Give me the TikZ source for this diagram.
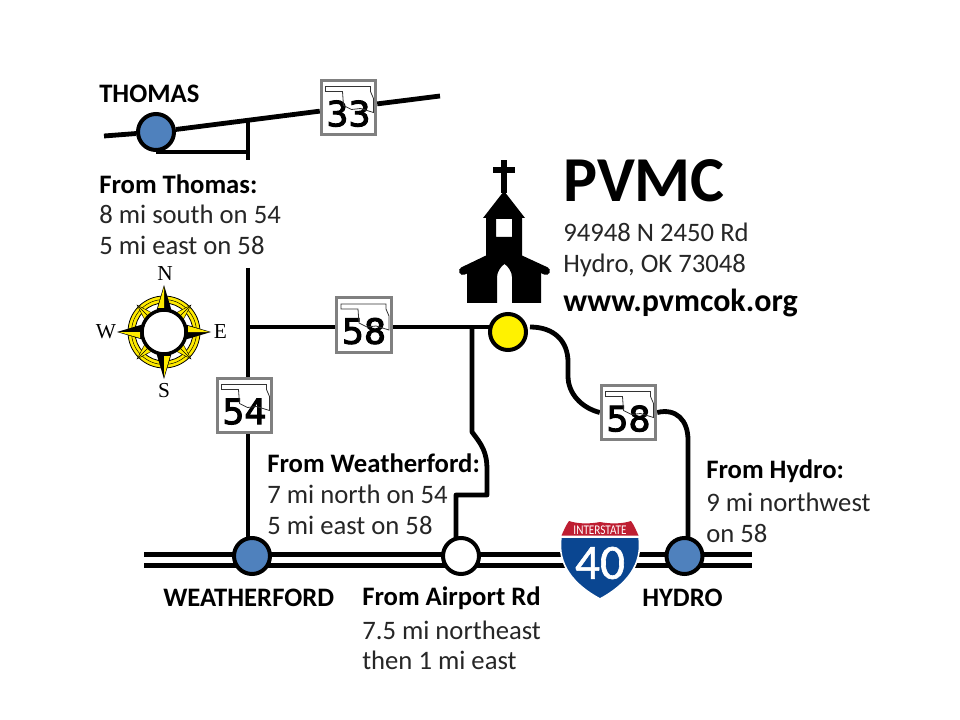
\documentclass[tikz,border=0pt]{standalone}
\usepackage{fontspec}
\setmainfont{Carlito}
\newfontfamily\signfont[FakeBold=3]{DejaVu Sans}
\newfontfamily\shieldfont[FakeBold=1.2]{Carlito}
\newfontfamily\compfont{Liberation Serif}
\usetikzlibrary{backgrounds}
\definecolor{townblue}{RGB}{79,129,189}
\definecolor{signgrey}{RGB}{128,128,128}
\definecolor{ired}{RGB}{190,30,50}
\definecolor{iblue}{RGB}{10,70,145}
\definecolor{cyellow}{RGB}{255,235,0}
\tikzset{
  road/.style={line width=3.6pt,black},
  interstate/.style={line width=3.75pt,black,double=white,double distance=4.5pt},
  town/.style={circle,draw=black,line width=3pt,minimum size=27pt,inner sep=0pt,fill=townblue},
  signbox/.style={rectangle,draw=signgrey,fill=white,line width=2.1pt,minimum size=41pt,inner sep=0pt},
  signnum/.style={font=\signfont\fontsize{26}{26}\selectfont,inner sep=0pt},
  txtlabel/.style={anchor=west,align=left,inner sep=0pt,font=\fontsize{20}{22.9}\selectfont,text=black!85},
  blabel/.style={anchor=west,inner sep=0pt,font=\bfseries\fontsize{20}{22}\selectfont},
  compassletter/.style={inner sep=0pt,font=\compfont\fontsize{16}{16}\selectfont}
}
\newcommand{\roadsign}[3]{%
  \node[signbox] (#1) at #2 {};
  \node[signnum] (#1num) at ([yshift=-4.6pt]#1.center) {#3};
  \begin{scope}[shift={(#1.center)}]
    \draw[black!80,line width=.6pt] (-23,-21)--(22,-21)--(22,-16)--(25,-9)--(25,5)--(12,1)--(3,2)--(-5,-2)--(-6,-16)--(-23,-16)--cycle;
  \end{scope}
}
\begin{document}
\begin{tikzpicture}[x=.75pt,y=-.75pt]
\useasboundingbox (0,0) rectangle (960,720);

% towns
\node[town] (thomas) at (156,132) {};
\node[town] (wford) at (252,556) {};
\node[town] (hydro) at (684.5,556) {};
\node[town,fill=white] (airport) at (461,556) {};
\node[town,fill=yellow] (pvmc) at (508,332) {};

% signs
\roadsign{sa}{(348.5,107.5)}{33}
\roadsign{sb}{(364,325)}{58}
\roadsign{sc}{(244.5,405.5)}{54}
\roadsign{sd}{(628.5,412.5)}{58}

% named free ends
\coordinate (tw) at (104,136);
\coordinate (te) at (440,96);
\coordinate (tj) at (248,119);
\coordinate (tb) at (248,160);
\coordinate (tbar) at (248,152);
\coordinate (mj) at (248,268);
\coordinate (cross) at (248,327);
\coordinate (aj) at (472,327);
\coordinate (iw) at (144,560);
\coordinate (ie) at (752,560);

\begin{scope}[on background layer]
  \fill[white] (0,0) rectangle (960,720);
  \draw[interstate] (iw) -- (ie);
  \draw[road] (tw) -- (thomas);
  \draw[road] (thomas) -- (sa);
  \draw[road] (sa) -- (te);
  \draw[road] (tj) -- (tb);
  \draw[road] (thomas |- tbar) -- (tbar);
  \draw[road] (mj) -- (tj |- sc.north);
  \draw[road] (tj |- sc.south) -- (tj |- wford.center);
  \draw[road] (cross) -- (sb.west |- cross);
  \draw[road] (sb.east |- cross) -- (pvmc.center |- cross);
  \draw[road,line join=round] (aj) -- (472,432) .. controls (482,445) and (487,452) .. (487,470) -- (487,495) -- (456,495) -- (456,550);
  \draw[road] (530,327) .. controls (555,327) and (568,342) .. (568,362) -- (568,376) .. controls (568,394) and (582,408) .. (sd.west);
  \draw[road] (sd.east) .. controls (676,408) and (688,420) .. (688,440) -- (688,545);
\end{scope}

% interstate shield
\begin{scope}
  \path[draw=white,line width=1.2pt,fill=iblue] (561,537) -- (639,537) .. controls (643,565) and (626,585) .. (600,599) .. controls (574,585) and (557,565) .. (561,537) -- cycle;
  \path[fill=ired] (561.5,535.5) .. controls (564,530) and (566,525) .. (569,521) .. controls (578,524) and (590,524) .. (600,522) .. controls (610,524) and (622,524) .. (631,521) .. controls (634,525) and (636,530) .. (638.5,535.5) -- cycle;
\end{scope}
\node[inner sep=0pt,text=white,xscale=.84,font=\fontsize{10}{10}\selectfont] (i40top) at (600,530.5) {INTERSTATE};
\node[inner sep=0pt,text=white,font=\shieldfont\fontsize{37}{37}\selectfont] (i40num) at (600,563) {40};

% church
\begin{scope}
  \fill[black] (501,160) rectangle (507,193);
  \fill[black] (493,167.5) rectangle (515,173.5);
  \draw[black,line width=6pt,line cap=round] (463,271) -- (488,259);
  \draw[black,line width=6pt,line cap=round] (546,271) -- (520,259);
  \fill[black,even odd rule] (504,191) -- (525,218) -- (522,218) -- (522,262) -- (541,268) -- (541,303) -- (512,303) -- (512,277) .. controls (512,272) and (508,266) .. (504.5,264) .. controls (501,266) and (497,272) .. (497,277) -- (497,303) -- (467,303) -- (467,268) -- (486,262) -- (486,218) -- (483,218) -- cycle
   (496,219) rectangle (512,237);
\end{scope}

% compass
\begin{scope}[shift={(164,332)}]
  \draw[black,line width=.6pt,fill=cyellow] (0,0) circle (36);
  \draw[black,line width=.35pt] (0,0) circle (32.5);
  \draw[black,line width=.6pt,fill=white] (0,0) circle (29);
  \foreach \a in {45,135,225,315}{
    \begin{scope}[rotate=\a]
      \fill[cyellow,draw=black,line width=.3pt] (0,-38) -- (-5,-22) -- (5,-22) -- cycle;
      \draw[black,line width=.3pt] (0,-38) -- (0,-22);
    \end{scope}
  }
  \foreach \a in {0,90,180,270}{
    \begin{scope}[rotate=\a]
      \fill[black] (0,-47) -- (-8,-20) -- (8,-20) -- cycle;
      \fill[cyellow] (0,-45) -- (0,-24) -- (-6,-24) -- cycle;
    \end{scope}
  }
  \draw[black,line width=2.6pt,fill=white] (0,0) circle (22);
\end{scope}
\node[compassletter] (cn) at (165,274) {N};
\node[compassletter] (cs) at (164,391) {S};
\node[compassletter] (cw) at (106,332) {W};
\node[compassletter] (ce) at (220.5,332) {E};

% text
\node[blabel] (tthomas) at (99,94) {THOMAS};
\node[blabel] (tfromt) at (99,184) {From Thomas:};
\node[txtlabel] (tfromtb) at (99,230) {8 mi south on 54\\5 mi east on 58};
\node[blabel] (tfromw) at (267,463) {From Weatherford:};
\node[txtlabel] (tfromwb) at (267,510) {7 mi north on 54\\5 mi east on 58};
\node[blabel] (tw2) at (163,598) {WEATHERFORD};
\node[blabel] (tfroma) at (362,598) {From Airport Rd};
\node[txtlabel] (tfromab) at (362,645.5) {7.5 mi northeast\\then 1 mi east};
\node[blabel] (th2) at (642,598) {HYDRO};
\node[blabel] (tfromh) at (706,471) {From Hydro:};
\node[txtlabel] (tfromhb) at (706,518) {9 mi northwest\\on 58};
\node[anchor=west,inner sep=0pt,font=\bfseries\fontsize{48}{48}\selectfont] (tp) at (563,181) {PVMC};
\node[txtlabel] (taddr) at (563,250) {94948 N 2450 Rd\\Hydro, OK 73048};
\node[anchor=west,inner sep=0pt,font=\bfseries\fontsize{24}{24}\selectfont] (tweb) at (563,303) {www.pvmcok.org};
\end{tikzpicture}
\end{document}
